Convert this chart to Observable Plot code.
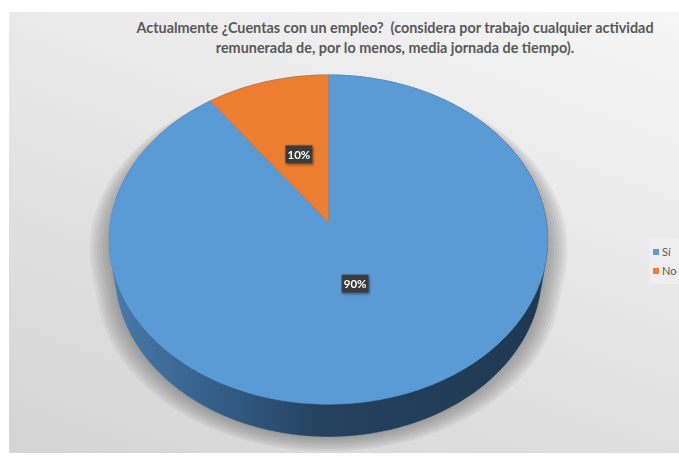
<!DOCTYPE html>
<html>
<head>
<meta charset="utf-8">
<script src="https://cdn.jsdelivr.net/npm/d3@7"></script>
<script src="https://cdn.jsdelivr.net/npm/@observablehq/plot@0.6"></script>
<style>
  html, body { margin: 0; padding: 0; background: #ffffff; }
  body { width: 679px; height: 459px; overflow: hidden; position: relative; font-family: Lato, "Open Sans", sans-serif; }
  #chart { position: absolute; left: 9px; top: 12px; width: 670px; height: 441px; overflow: hidden;
           background: linear-gradient(200deg, #f6f6f6 0%, #e8e8e8 40%, #d4d4d4 100%); }
  #title { position: absolute; left: 386px; top: 6px; transform: translateX(-50%); white-space: nowrap;
           text-align: center; font-weight: 700; font-size: 14.4px; line-height: 20px; color: #595959; }
  #plot { position: absolute; left: 0; top: 50px; }
  #legend { position: absolute; left: 640px; top: 226px; width: 40px; padding: 4px 0 4px 4px; background: rgba(255,255,255,0.25);
            font-size: 11px; color: #595959; line-height: 19px; white-space: nowrap; }
  #legend .sw { display: inline-block; width: 6px; height: 6px; margin-right: 3px; vertical-align: 1px; }
</style>
</head>
<body>
<div id="chart">
  <div id="title"></div>
  <div id="plot"></div>
  <div id="legend"></div>
</div>
<script>
// ---- data ----
const titleLines = ["Actualmente ¿Cuentas con un empleo?  (considera por trabajo cualquier actividad",
                    "remunerada de, por lo menos, media jornada de tiempo)."];
const categories = ["Sí", "No"];
const values = [90, 10];
const valueLabels = ["90%", "10%"];
const colors = ["#5B9BD5", "#ED7D31"];

// ---- layout / 3D view settings ----
const W = 670, H = 391;
const unit = 218;            // px per pie radius
const cx = 319, cy = 160;    // pie centre inside the svg
const sinA = 0.747, cosA = Math.sqrt(1 - sinA * sinA), D = 6.41, DEPTH = 0.241;
const labelRadius = [0.38, 0.46];
const shadowLayers = d3.range(1, 9);

function proj(X, Z, Y = 0) {
  const Yc = Z * sinA + Y * cosA;
  const Zc = Z * cosA - Y * sinA;
  const s = D / (D + Zc);
  return [X * s, Yc * s];
}
const step = Math.PI / 180;
function arcPoints(a0, a1, Y, rx = 1, rz = rx) {
  const n = Math.max(2, Math.ceil(Math.abs(a1 - a0) / step));
  return d3.range(n + 1).map(i => {
    const a = a0 + (a1 - a0) * i / n;
    return proj(rx * Math.sin(a), rz * Math.cos(a), Y);
  });
}
const TAU = 2 * Math.PI;

const rows = categories.map((c, i) => ({name: c, value: values[i], label: valueLabels[i]}));
const arcs = d3.pie().sort(null).value(d => d.value)(rows);

const slicePts = arcs.flatMap(a =>
  [proj(0, 0, 0), ...arcPoints(a.startAngle, a.endAngle, 0)].map(([u, v]) => ({name: a.data.name, u, v})));

const sideHull = d3.polygonHull([...arcPoints(0, TAU, 0), ...arcPoints(0, TAU, -DEPTH)])
  .map(([u, v]) => ({u, v}));

// soft shadow: stacked translucent silhouettes, growing outward
const shadowPts = shadowLayers.flatMap(k =>
  d3.polygonHull([...arcPoints(0, TAU, -0.06, 1 + 0.012 * k, 1 + 0.004 * k),
                  ...arcPoints(0, TAU, -DEPTH - 0.008 * k, 1 + 0.012 * k, 1 + 0.004 * k)])
    .map(([u, v]) => ({layer: k, u, v})));

const labelPts = arcs.map((a, i) => {
  const m = (a.startAngle + a.endAngle) / 2, r = labelRadius[i];
  const [u, v] = proj(r * Math.sin(m), r * Math.cos(m), 0);
  return {u, v, label: a.data.label};
});

const boxSymbol = { draw(ctx) { ctx.rect(-13.5, -9, 27, 18); } };

const plot = Plot.plot({
  width: W, height: H,
  margin: 0,
  style: {background: "transparent", overflow: "visible"},
  x: {domain: [-cx / unit, (W - cx) / unit], axis: null},
  y: {domain: [-(H - cy) / unit, cy / unit], axis: null},
  color: {domain: categories, range: colors},
  marks: [
    Plot.line(shadowPts, {x: "u", y: "v", z: "layer", fill: "#5a5a5a", fillOpacity: 0.075, stroke: "#5a5a5a", strokeOpacity: 0.03, strokeWidth: 1}),
    Plot.line(sideHull, {x: "u", y: "v", fill: "url(#sideGrad)", stroke: "url(#sideGrad)", strokeWidth: 0.6}),
    Plot.line(slicePts, {x: "u", y: "v", z: "name", fill: "name", stroke: "name", strokeWidth: 0.6}),
    Plot.dot(labelPts, {x: "u", y: "v", symbol: boxSymbol, fill: "#3b3b3b", stroke: null}),
    Plot.text(labelPts, {x: "u", y: "v", text: "label", fill: "white", fontWeight: "bold", fontSize: 11.5,
                         fontFamily: "Lato, 'Open Sans', sans-serif", dy: 0.5})
  ]
});

const svg = d3.select(plot);
const defs = svg.insert("defs", ":first-child");
const g = defs.append("linearGradient").attr("id", "sideGrad").attr("x1", "0").attr("x2", "1").attr("y1", "0").attr("y2", "0");
[["0%", "#4a7aab"], ["22%", "#36618c"], ["48%", "#24425f"], ["100%", "#1e3852"]].forEach(([o, c]) =>
  g.append("stop").attr("offset", o).attr("stop-color", c));
defs.append("filter").attr("id", "boxShadow").attr("x", "-30%").attr("y", "-30%").attr("width", "160%").attr("height", "160%")
  .append("feDropShadow").attr("dx", 1).attr("dy", 1.5).attr("stdDeviation", 1.2).attr("flood-opacity", 0.45);
const groups = plot.querySelectorAll(":scope > g");
if (groups[3]) d3.select(groups[3]).attr("filter", "url(#boxShadow)");

document.getElementById("plot").appendChild(plot);

document.getElementById("title").innerHTML = titleLines.map(t => `<div>${t.replace(/  /g, "&nbsp; ")}</div>`).join("");
document.getElementById("legend").innerHTML = categories.map((c, i) =>
  `<div><span class="sw" style="background:${colors[i]}"></span>${c}</div>`).join("");
</script>
</body>
</html>
